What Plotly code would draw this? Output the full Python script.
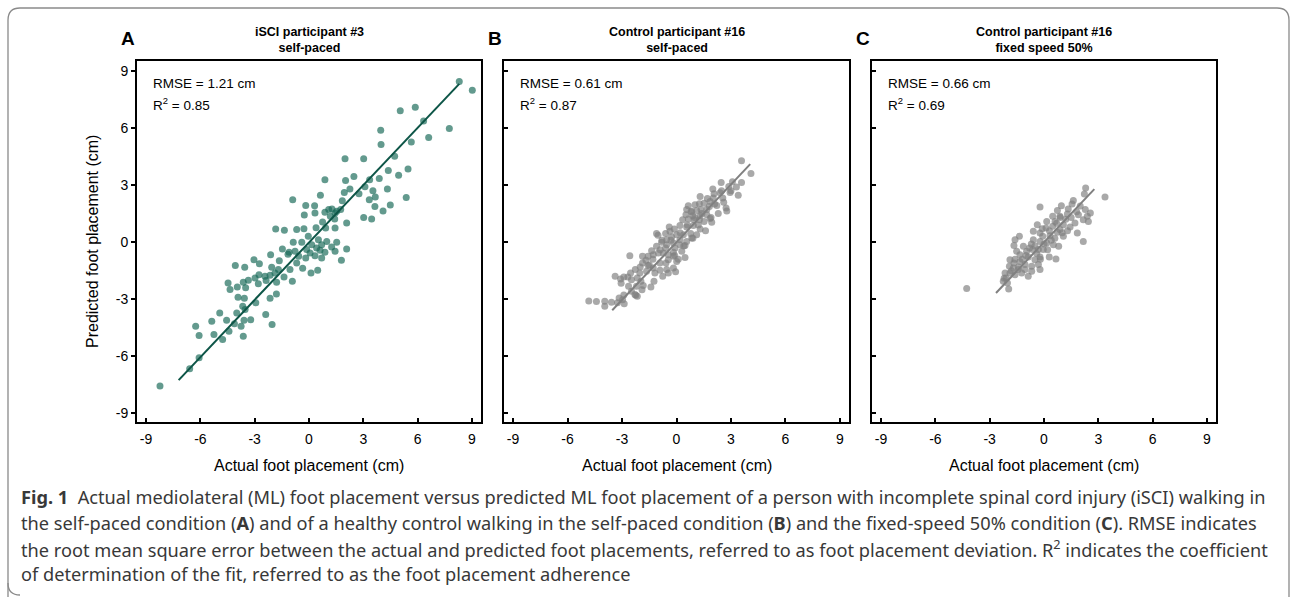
import plotly.graph_objects as go

W, H = 1292, 597

# ---------------- data (cm) ----------------
a_actual = [8.30, 9.02, 5.87, 5.04, 6.33, 7.75, 6.61, 3.96, 3.98, 5.65, 4.73, 3.02, 1.99, 4.38, 4.95, 5.47,
            0.88, 2.02, 2.48, 3.35, 3.88, 2.26, 1.95, 2.76, 3.09, 3.53, 4.33, -0.90, 0.63, 3.33, 3.66, 5.37,
            -0.18, 0.31, 1.09, 1.27, 1.53, 1.84, 3.64, 4.49, 4.09, -0.26, 0.33, 0.88, 1.18, 1.44, 1.75, 3.02,
            3.46, 0.75, 1.42, 2.08, -1.84, -1.36, -0.68, -0.28, 0.39, 0.92, 1.44, -0.04, 0.52, 0.98, 1.53,
            -0.87, -0.40, 0.15, 0.42, 0.70, 1.25, 2.08, -0.13, 0.06, 0.61, 0.88, 1.44, -1.47, -1.10, -0.77,
            -2.12, -3.04, -2.74, -1.64, -1.16, -0.57, -0.18, 0.33, 0.70, 1.79, -4.07, -3.55, -2.06, -1.69,
            -1.05, -0.68, -0.35, 0.11, 0.48, -2.98, -2.76, -2.43, -2.15, -1.88, -1.38, -4.47, -3.96, -3.63,
            -3.35, -2.80, -2.37, -1.79, -0.92, -4.36, -3.50, -3.92, -3.57, -2.94, -2.15, -1.80, -4.93, -3.99,
            -3.66, -3.53, -2.39, -5.37, -4.55, -4.12, -3.59, -3.22, -2.04, -6.26, -5.25, -4.77, -6.07, -4.42,
            -3.75, -3.63, -6.07, -6.59, -8.23]
a_pred = [8.44, 7.98, 7.09, 6.90, 6.37, 5.97, 5.50, 5.88, 5.13, 5.26, 4.52, 4.38, 4.38, 3.77, 3.52, 3.84,
          3.28, 3.24, 3.45, 3.28, 3.35, 2.79, 2.61, 2.54, 2.91, 2.70, 2.79, 2.23, 2.46, 2.23, 2.37, 2.35,
          1.93, 1.92, 1.71, 1.74, 1.62, 2.18, 1.88, 1.95, 1.64, 1.43, 1.53, 1.57, 1.36, 1.53, 1.71, 1.29,
          1.22, 1.06, 1.22, 1.01, 0.69, 0.62, 0.67, 0.71, 0.76, 0.74, 0.74, 0.31, 0.13, 0.04, -0.01,
          -0.01, -0.01, -0.13, -0.31, -0.13, -0.25, -0.36, -0.39, -0.57, -0.43, -0.53, -0.48, -0.36, -0.53, -0.48,
          -0.66, -0.92, -1.13, -0.97, -0.64, -0.74, -0.83, -0.71, -0.83, -0.95, -1.23, -1.32, -1.32, -1.44,
          -1.44, -1.09, -1.37, -1.62, -1.48, -1.88, -1.71, -1.79, -1.74, -1.62, -1.83, -2.14, -2.35, -2.11,
          -2.00, -2.18, -2.02, -2.11, -2.05, -2.49, -2.40, -2.89, -2.95, -3.19, -2.95, -2.72, -3.72, -3.72,
          -3.37, -3.54, -3.80, -4.15, -4.10, -4.29, -4.10, -4.08, -4.33, -4.42, -4.85, -5.12, -4.91, -4.68,
          -4.42, -4.94, -6.08, -6.65, -7.56]
a_fit_x = [-7.20, 8.30]
a_fit_y = [-7.25, 8.32]

b_actual = [3.58, 4.10, 2.46, 3.08, 3.58, 2.88, 2.48, 2.07, 3.40, 2.95, 2.55, 2.02, 1.85, 1.52, 1.26, 1.02,
            0.65, 2.73, 2.77, 1.81, 2.22, 1.67, 1.35, 1.11, 0.84, 0.56, 0.52, 0.89, 1.30, 1.67, 1.85, 1.52,
            1.26, 0.97, 0.65, 0.34, 1.94, 1.30, 0.93, 0.56, 0.19, -0.12, -0.36, -0.60, -1.10, -1.02, 1.11,
            0.78, 0.38, 0.01, -0.27, -0.54, -0.82, -1.10, -1.37, 0.19, 0.56, 0.84, -0.17, -0.54, -0.08, 0.19,
            0.47, 0.29, -0.17, -0.45, -0.73, -1.00, -1.28, -1.56, -1.87, -1.68, -0.17, -0.45, -0.58, -0.91,
            0.01, 0.47, -2.57, -1.87, -1.56, -1.28, -0.91, -0.54, -0.17, -0.45, -0.76, -0.05, -1.19, -1.65,
            -2.02, -2.27, -2.53, -2.68, -2.90, -3.38, -3.08, -3.05, -2.48, -2.16, -1.96, -2.20, -1.83, -1.41,
            -1.24, -2.64, -2.48, -2.24, -2.16, -2.90, -3.16, -2.97, -3.25, -3.58, -3.95, -4.41, -4.83, -3.95,
            -2.88, -2.29,
            0.60, 1.00, 1.40, 1.70, 2.10, 2.40, -0.30, 0.20, -0.60, 0.90, 1.20, -1.30, -0.90, 2.60, 3.00,
            3.30, 2.30, 1.60, 0.40, -0.10, -1.50, -2.00, 0.80, 1.30, 2.00, -0.40, -0.80, -1.90, 0.10, 1.90]
b_pred = [4.28, 3.61, 3.14, 3.17, 3.14, 2.93, 2.70, 2.54, 2.47, 2.61, 2.32, 2.32, 2.14, 2.05, 2.02, 1.97,
          1.92, 1.79, 1.64, 1.88, 1.93, 1.71, 1.71, 1.67, 1.62, 1.71, 1.44, 1.39, 1.39, 1.44, 1.25, 1.09,
          1.18, 1.18, 1.22, 1.18, 1.04, 0.69, 0.87, 0.80, 0.87, 0.69, 0.57, 0.45, 0.46, 0.36, 0.39,
          0.45, 0.39, 0.39, 0.27, 0.13, -0.01, -0.22, -0.45, 0.13, 0.04, 0.22, -0.04, -0.13, -0.31, -0.13,
          -0.18, -0.48, -0.53, -0.66, -0.57, -0.57, -0.66, -0.74, -0.74, -0.95, -0.74, -0.92, -1.09, -1.09,
          -1.01, -0.81, -0.71, -1.09, -1.23, -1.36, -1.48, -1.44, -1.36, -1.62, -1.79, -1.55, -1.62, -1.53,
          -1.62, -1.44, -1.62, -1.83, -1.83, -1.79, -1.93, -2.16, -1.97, -1.88, -2.05, -2.32, -2.28, -2.35,
          -2.05, -2.32, -2.58, -2.79, -2.84, -2.77, -2.93, -3.02, -3.19, -3.16, -3.10, -3.12, -3.09, -3.37,
          -3.24, -2.75,
          0.90, 1.30, 1.50, 2.30, 2.00, 2.60, 0.10, 0.50, -0.30, 0.20, 0.90, -0.90, -0.40, 2.10, 2.70,
          2.90, 1.50, 0.60, -0.20, -0.70, -1.20, -1.30, 1.60, 2.40, 2.80, 0.80, 0.10, -2.50, -0.90, 1.30]
b_fit_x = [-3.54, 4.06]
b_fit_y = [-3.58, 4.10]

c_actual = [2.30, 3.37, 2.23, 1.62, 1.55, 0.96, -0.22, 0.74, 1.34, 2.28, 2.56, 2.39, 2.17, 2.45, 1.90, 1.71,
            1.29, 0.88, 0.48, 0.15, 0.61, 1.07, 1.44, 1.84, 2.17, 0.88, 0.48, 0.11, -0.37, -0.22, -0.59,
            -0.07, 0.33, 0.74, 1.07, 0.81, 0.52, 0.15, -0.22, -0.59, -1.36, -1.60, -1.66, -1.14, -0.96, -0.63,
            -0.31, -0.04, 0.29, 0.66, -0.22, -0.50, -0.87, -1.33, -1.51, -1.88, -1.66, -1.33, -1.05, -0.68,
            -0.31, -0.22, -0.68, -1.05, -1.42, -1.69, -1.91, -2.15, -1.88, -1.60, -2.10, -2.25, -2.02, -1.23,
            -0.87, -4.27, -1.95,
            0.30, 0.60, -0.10, -0.50, -0.80, 1.20, 1.50, 0.90, 0.00, -0.40, -1.20, -1.60, 0.40, 1.00, -1.00,
            -0.20, 2.00, 1.80, -0.70, 0.20, -1.40, -1.80, -2.20, 0.70, 1.30]
c_pred = [2.84, 2.37, 2.53, 2.19, 2.00, 1.91, 1.85, 1.67, 1.74, 1.71, 1.53, 1.36, 1.18, 1.09, 1.44, 1.01,
          1.48, 1.36, 1.36, 1.09, 1.09, 0.92, 0.80, 0.48, 0.04, 0.66, 0.83, 0.74, 0.92, 0.48, 0.57,
          0.31, 0.34, 0.52, 0.31, -0.22, -0.13, -0.04, 0.04, 0.13, 0.31, 0.13, -0.18, -0.22, -0.48, -0.39,
          -0.39, -0.39, -0.78, -0.88, -0.78, -0.92, -0.78, -0.66, -0.48, -0.92, -1.09, -1.01, -1.18, -1.27,
          -1.18, -1.44, -1.53, -1.44, -1.44, -1.36, -1.27, -1.62, -1.62, -1.71, -1.88, -2.05, -2.14, -1.62,
          -1.79, -2.44, -2.46,
          0.60, 0.20, 0.70, -0.20, -0.30, 1.20, 1.30, 1.30, -0.10, -0.60, -0.90, -0.90, 0.10, 0.50, -0.70,
          -0.90, 1.90, 1.60, -0.10, -0.40, -1.30, -1.50, -1.90, 1.00, 0.60]
c_fit_x = [-2.65, 2.78]
c_fit_y = [-2.67, 2.79]

tick_vals = [-9, -6, -3, 0, 3, 6, 9]
tick_text = ["-9", "-6", "-3", "0", "3", "6", "9"]
panel_titles = ["iSCI participant #3<br>self-paced",
                "Control participant #16<br>self-paced",
                "Control participant #16<br>fixed speed 50%"]
panel_letters = ["A", "B", "C"]
stats = [("1.21", "0.85"), ("0.61", "0.87"), ("0.66", "0.69")]
caption_lines = [
    "<b>Fig. 1</b>\u00a0\u00a0Actual mediolateral (ML) foot placement versus predicted ML foot placement of a person with incomplete spinal cord injury (iSCI) walking in",
    "the self-paced condition (<b>A</b>) and of a healthy control walking in the self-paced condition (<b>B</b>) and the fixed-speed 50% condition (<b>C</b>). RMSE indicates",
    "the root mean square error between the actual and predicted foot placements, referred to as foot placement deviation. R<sup>2</sup> indicates the coefficient",
    "of determination of the fit, referred to as the foot placement adherence",
]

# ---------------- styling / layout ----------------
panels = [
    (a_actual, a_pred, a_fit_x, a_fit_y, "rgba(25,106,89,0.68)", "#0d5547"),
    (b_actual, b_pred, b_fit_x, b_fit_y, "rgba(128,128,128,0.68)", "#808080"),
    (c_actual, c_pred, c_fit_x, c_fit_y, "rgba(128,128,128,0.68)", "#808080"),
]
x_px = [(137, 481), (504, 849), (872, 1216)]
y_top, y_bot = 61, 422
FONT = "Liberation Sans, Arial, sans-serif"

def px(x):
    return x / W

def py(y):
    return 1 - y / H

fig = go.Figure()
layout = dict(
    width=W, height=H,
    margin=dict(l=0, r=0, t=0, b=0),
    paper_bgcolor="white", plot_bgcolor="white",
    showlegend=False,
    font=dict(family=FONT, color="black"),
)
annotations = []
shapes = []

for i, (xs, ys, fx, fy, mcol, lcol) in enumerate(panels):
    n = i + 1
    xa = "x" if n == 1 else f"x{n}"
    ya = "y" if n == 1 else f"y{n}"
    fig.add_trace(go.Scatter(x=xs, y=ys, mode="markers", xaxis=xa, yaxis=ya,
                             marker=dict(size=7, color=mcol, line=dict(width=0))))
    fig.add_trace(go.Scatter(x=fx, y=fy, mode="lines", xaxis=xa, yaxis=ya,
                             line=dict(color=lcol, width=2)))
    dom = [px(x_px[i][0]), px(x_px[i][1])]
    ydom = [py(y_bot), py(y_top)]
    common = dict(showgrid=False, zeroline=False, showline=True, linecolor="black",
                  linewidth=2, mirror=True, tickvals=tick_vals, ticktext=tick_text,
                  ticklen=4, tickwidth=2,
                  tickcolor="black", tickfont=dict(size=14, family=FONT, color="black"))
    layout[f"xaxis{'' if n == 1 else n}"] = dict(domain=dom, range=[-9.5, 9.5], anchor=ya,
                                                  ticks="inside", ticklabelstandoff=3, **common)
    layout[f"yaxis{'' if n == 1 else n}"] = dict(domain=ydom, range=[-9.45, 9.52], anchor=xa,
                                                  ticks="outside" if n == 1 else "inside",
                                                  showticklabels=(n == 1), **common)
    # mirrored inward ticks on top / right
    layout[f"xaxis{n + 3}"] = dict(overlaying=xa, side="top", anchor=ya, range=[-9.5, 9.5],
                                   tickvals=tick_vals, ticks="inside", ticklen=4, tickwidth=2,
                                   tickcolor="black", showticklabels=False, showgrid=False,
                                   zeroline=False, showline=False)
    layout[f"yaxis{n + 3}"] = dict(overlaying=ya, side="right", anchor=xa, range=[-9.45, 9.52],
                                   tickvals=tick_vals, ticks="inside", ticklen=4, tickwidth=2,
                                   tickcolor="black", showticklabels=False, showgrid=False,
                                   zeroline=False, showline=False)
    cx = (x_px[i][0] + x_px[i][1]) / 2
    annotations.append(dict(x=px(cx), y=py(40), xref="paper", yref="paper", showarrow=False,
                            text=f"<b>{panel_titles[i]}</b>", font=dict(size=12.5, family=FONT),
                            xanchor="center", yanchor="middle", align="center"))
    annotations.append(dict(x=px(x_px[i][0] - 18), y=py(38), xref="paper", yref="paper",
                            showarrow=False, text=f"<b>{panel_letters[i]}</b>",
                            font=dict(size=19, family=FONT), xanchor="left", yanchor="middle"))
    annotations.append(dict(x=px(x_px[i][0] + 14), y=py(84), xref="paper", yref="paper",
                            showarrow=False, text=f"RMSE = {stats[i][0]} cm",
                            font=dict(size=13.5, family=FONT), xanchor="left", yanchor="middle"))
    annotations.append(dict(x=px(x_px[i][0] + 14), y=py(104), xref="paper", yref="paper",
                            showarrow=False, text=f"R<sup>2</sup> = {stats[i][1]}",
                            font=dict(size=13.5, family=FONT), xanchor="left", yanchor="middle"))
    annotations.append(dict(x=px(cx), y=py(465), xref="paper", yref="paper", showarrow=False,
                            text="Actual foot placement (cm)", font=dict(size=16, family=FONT),
                            xanchor="center", yanchor="middle"))

annotations.append(dict(x=px(92), y=py(242), xref="paper", yref="paper", showarrow=False,
                        text="Predicted foot placement (cm)", textangle=-90,
                        font=dict(size=16, family=FONT), xanchor="center", yanchor="middle"))

CAP_FONT = "Noto Sans, Open Sans, sans-serif"
for k, line in enumerate(caption_lines):
    annotations.append(dict(x=px(19), y=py(497 + 25.5 * k), xref="paper", yref="paper",
                            showarrow=False, text=line, xanchor="left", yanchor="middle",
                            align="left", font=dict(size=18.2, family=CAP_FONT, color="#383838")))

shapes.append(dict(type="path", xref="paper", yref="paper",
                   path=(f"M {px(8)},{py(604)} L {px(8)},{py(20)} Q {px(8)},{py(8)} {px(20)},{py(8)} "
                         f"L {px(1277)},{py(8)} Q {px(1289)},{py(8)} {px(1289)},{py(20)} L {px(1289)},{py(604)}"),
                   line=dict(color="#8a8a8a", width=1.3)))
shapes.append(dict(type="path", xref="paper", yref="paper",
                   path=f"M {px(8)},{py(583)} Q {px(8)},{py(595)} {px(20)},{py(595)}",
                   line=dict(color="#8a8a8a", width=1.3)))

layout["annotations"] = annotations
layout["shapes"] = shapes
fig.update_layout(**layout)
fig.write_html("out.html", config={"displayModeBar": False},
               post_script="document.body.style.margin='0';document.body.style.overflow='hidden';")
